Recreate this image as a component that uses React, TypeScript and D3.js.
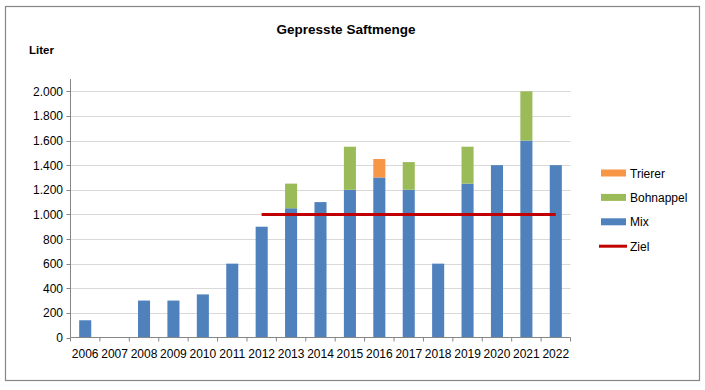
import React from 'react'
import * as d3 from 'd3'

const years = ['2006', '2007', '2008', '2009', '2010', '2011', '2012', '2013', '2014', '2015', '2016', '2017', '2018', '2019', '2020', '2021', '2022']
const mix = [140, 0, 300, 300, 350, 600, 900, 1050, 1100, 1200, 1300, 1200, 600, 1250, 1400, 1600, 1400]
const bohnappel = [0, 0, 0, 0, 0, 0, 0, 200, 0, 350, 0, 225, 0, 300, 0, 400, 0]
const trierer = [0, 0, 0, 0, 0, 0, 0, 0, 0, 0, 150, 0, 0, 0, 0, 0, 0]
const ziel = [null, null, null, null, null, null, 1000, 1000, 1000, 1000, 1000, 1000, 1000, 1000, 1000, 1000, 1000]
const yTicks = [0, 200, 400, 600, 800, 1000, 1200, 1400, 1600, 1800, 2000]

const seriesKeys = ['mix', 'bohnappel', 'trierer']
const colors: Record<string, string> = { mix: '#4F81BD', bohnappel: '#9BBB59', trierer: '#F79646' }
const legendItems = [
  { label: 'Trierer', key: 'trierer' },
  { label: 'Bohnappel', key: 'bohnappel' },
  { label: 'Mix', key: 'mix' },
  { label: 'Ziel', key: 'ziel' }
]

const width = 705
const height = 390
const left = 70.5
const right = 570.5
const top = 79
const bottom = 337.5
const font = '"Liberation Sans", Arial, sans-serif'

const fmt = (v: number) => d3.format(',')(v).replace(/,/g, '.')

const App = () => {
  const table = years.map((y, i) => ({ year: y, mix: mix[i], bohnappel: bohnappel[i], trierer: trierer[i] }))
  const stacked = d3.stack<any>().keys(seriesKeys)(table)

  const x = d3.scaleBand().domain(years).range([left, right]).padding(0)
  const y = d3.scaleLinear().domain([0, 2100]).range([bottom, top])
  const bw = x.bandwidth()
  const barW = bw * 0.41

  const line = d3
    .line<number | null>()
    .defined(d => d != null)
    .x((d, i) => (x(years[i]) as number) + bw / 2)
    .y(d => y(d as number))

  return (
    <svg width={width} height={height} style={{ position: 'absolute', left: 0, top: 0 }} fontFamily={font}>
      <rect x={0} y={0} width={width} height={height} fill="#fff" />
      <rect x={5.5} y={6.5} width={694} height={374} fill="#fff" stroke="#868686" strokeWidth={1.2} />
      <text x={346} y={34} textAnchor="middle" fontSize={13.5} fontWeight="bold">Gepresste Saftmenge</text>
      <text x={29} y={54} fontSize={11.5} fontWeight="bold">Liter</text>

      {yTicks.slice(1).map(t => (
        <line key={t} x1={left} x2={right} y1={Math.round(y(t)) + 0.5} y2={Math.round(y(t)) + 0.5} stroke="#D9D9D9" />
      ))}

      {stacked.map(s => (
        <g key={s.key} fill={colors[s.key]}>
          {s.map((d, i) =>
            d[1] - d[0] > 0 ? (
              <rect key={i} x={(x(years[i]) as number) + (bw - barW) / 2} y={y(d[1])} width={barW} height={y(d[0]) - y(d[1])} />
            ) : null
          )}
        </g>
      ))}

      <path d={line(ziel) || ''} fill="none" stroke="#C00000" strokeWidth={3} />

      <line x1={left} x2={left} y1={top} y2={bottom} stroke="#868686" />
      <line x1={left} x2={right} y1={bottom} y2={bottom} stroke="#868686" />
      {yTicks.map(t => (
        <g key={t}>
          <line x1={left - 4} x2={left} y1={Math.round(y(t)) + 0.5} y2={Math.round(y(t)) + 0.5} stroke="#868686" />
          <text x={63} y={y(t) + 4.5} textAnchor="end" fontSize={12}>{fmt(t)}</text>
        </g>
      ))}
      {years.map(yr => (
        <line key={yr} x1={x(yr)} x2={x(yr)} y1={bottom} y2={bottom + 4} stroke="#868686" />
      ))}
      <line x1={right} x2={right} y1={bottom} y2={bottom + 4} stroke="#868686" />
      {years.map(yr => (
        <text key={yr} x={(x(yr) as number) + bw / 2} y={358} textAnchor="middle" fontSize={12}>{yr}</text>
      ))}

      {legendItems.map((it, i) => {
        const cy = 173 + i * 24.4
        return (
          <g key={it.key}>
            {it.key === 'ziel' ? (
              <line x1={599} x2={627} y1={cy} y2={cy} stroke="#C00000" strokeWidth={3} />
            ) : (
              <rect x={601} y={cy - 3.5} width={25} height={7} fill={colors[it.key]} />
            )}
            <text x={630} y={cy + 4.5} fontSize={12}>{it.label}</text>
          </g>
        )
      })}
    </svg>
  )
}

export default App
